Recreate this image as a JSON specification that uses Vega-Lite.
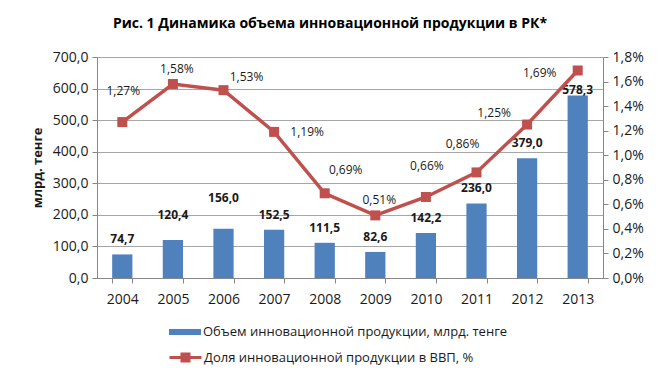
{
  "$schema": "https://vega.github.io/schema/vega-lite/v6.json",
  "autosize": "none",
  "width": 506,
  "height": 221,
  "padding": {"left": 97, "top": 57, "right": 57, "bottom": 104},
  "background": "white",
  "config": {
    "locale": {"number": {"decimal": ",", "thousands": "\u00a0", "grouping": [3], "currency": ["", ""]}},
    "font": "Open Sans",
    "view": {"stroke": null},
    "axis": {"labelFont": "Open Sans", "labelFontSize": 14, "labelColor": "#1a1a1a", "domainColor": "#868686", "tickColor": "#868686", "gridColor": "#a6a6a6", "tickSize": 5}
  },
  "title": {"text": "Рис. 1 Динамика объема инновационной продукции в РК*", "fontSize": 14, "fontWeight": "bold", "font": "Open Sans", "color": "#000000", "anchor": "middle", "dx": -20, "offset": 19},
  "data": {"values": [
    {"year": "2004", "volume": 74.7, "share": 0.0127},
    {"year": "2005", "volume": 120.4, "share": 0.0158},
    {"year": "2006", "volume": 156.0, "share": 0.0153},
    {"year": "2007", "volume": 152.5, "share": 0.0119},
    {"year": "2008", "volume": 111.5, "share": 0.0069},
    {"year": "2009", "volume": 82.6, "share": 0.0051},
    {"year": "2010", "volume": 142.2, "share": 0.0066},
    {"year": "2011", "volume": 236.0, "share": 0.0086},
    {"year": "2012", "volume": 379.0, "share": 0.0125},
    {"year": "2013", "volume": 578.3, "share": 0.0169}
  ]},
  "encoding": {
    "x": {"field": "year", "type": "ordinal", "scale": {"paddingInner": 0.6, "paddingOuter": 0.3},
      "axis": {"title": null, "labelAngle": 0, "tickBand": "extent", "labelPadding": 9, "grid": false}}
  },
  "layer": [
    {
      "encoding": {
        "y": {"field": "volume", "type": "quantitative", "scale": {"domain": [0, 700], "nice": false},
          "axis": {"title": "млрд. тенге", "titleFont": "Open Sans", "titleFontSize": 13, "titleFontWeight": "bold", "titleColor": "#1a1a1a", "titlePadding": 8, "values": [0, 100, 200, 300, 400, 500, 600, 700], "format": ".1f", "grid": true, "labelPadding": 4}}
      },
      "layer": [
        {"mark": {"type": "bar", "color": "#4f81bd"},
         "encoding": {"fill": {"datum": "Объем инновационной продукции, млрд. тенге", "scale": {"range": ["#4f81bd"]},
           "legend": {"title": null, "orient": "none", "legendX": 71, "legendY": 258, "symbolType": "M-1,-0.19H1V0.19H-1Z", "symbolSize": 1024, "labelFont": "Open Sans", "labelFontSize": 13, "labelColor": "#1a1a1a", "labelOffset": 1, "labelLimit": 400}}}},
        {"transform": [{"filter": "indexof(['2005','2006','2013'], datum.year) < 0"}],
         "mark": {"type": "text", "fontWeight": "bold", "fontSize": 12, "baseline": "middle", "dy": -15, "color": "#1a1a1a"},
         "encoding": {"text": {"field": "volume", "type": "quantitative", "format": ".1f"}}},
        {"transform": [{"filter": "datum.year == '2005'"}],
         "mark": {"type": "text", "fontWeight": "bold", "fontSize": 12, "baseline": "middle", "dy": -25, "color": "#1a1a1a"},
         "encoding": {"text": {"field": "volume", "type": "quantitative", "format": ".1f"}}},
        {"transform": [{"filter": "datum.year == '2006'"}],
         "mark": {"type": "text", "fontWeight": "bold", "fontSize": 12, "baseline": "middle", "dy": -31, "color": "#1a1a1a"},
         "encoding": {"text": {"field": "volume", "type": "quantitative", "format": ".1f"}}},
        {"transform": [{"filter": "datum.year == '2013'"}],
         "mark": {"type": "text", "fontWeight": "bold", "fontSize": 12, "baseline": "middle", "dy": -5, "color": "#1a1a1a"},
         "encoding": {"text": {"field": "volume", "type": "quantitative", "format": ".1f"}}}
      ]
    },
    {
      "encoding": {
        "y": {"field": "share", "type": "quantitative", "scale": {"domain": [0, 0.018], "nice": false},
          "axis": {"title": null, "orient": "right", "values": [0, 0.002, 0.004, 0.006, 0.008, 0.01, 0.012, 0.014, 0.016, 0.018], "format": ".1%", "grid": false, "labelPadding": 4}}
      },
      "layer": [
        {"mark": {"type": "line", "strokeWidth": 3.5},
         "encoding": {"stroke": {"datum": "Доля инновационной продукции в ВВП, %", "scale": {"range": ["#c0504d"]},
           "legend": {"title": null, "orient": "none", "legendX": 71, "legendY": 283, "symbolType": "M-1,0H1M-0.22,-0.22H0.22V0.22H-0.22Z", "symbolSize": 1024, "symbolStrokeWidth": 3, "labelFont": "Open Sans", "labelFontSize": 13, "labelColor": "#1a1a1a", "labelOffset": 1, "labelLimit": 400,
             "encode": {"symbols": {"update": {"fill": {"value": "#c0504d"}, "stroke": {"value": "#c0504d"}}}}}}}},
        {"mark": {"type": "point", "shape": "square", "filled": true, "size": 100, "color": "#c0504d", "opacity": 1}},
        {"transform": [{"filter": "datum.year == '2004' || datum.year == '2010'"}],
         "mark": {"type": "text", "fontSize": 12, "baseline": "middle", "dx": 1, "dy": -31, "color": "#1a1a1a"},
         "encoding": {"text": {"field": "share", "type": "quantitative", "format": ".2%"}}},
        {"transform": [{"filter": "datum.year == '2005' || datum.year == '2009'"}],
         "mark": {"type": "text", "fontSize": 12, "baseline": "middle", "dx": 4, "dy": -15, "color": "#1a1a1a"},
         "encoding": {"text": {"field": "share", "type": "quantitative", "format": ".2%"}}},
        {"transform": [{"filter": "datum.year == '2006'"}],
         "mark": {"type": "text", "fontSize": 12, "baseline": "middle", "dx": 23, "dy": -13, "color": "#1a1a1a"},
         "encoding": {"text": {"field": "share", "type": "quantitative", "format": ".2%"}}},
        {"transform": [{"filter": "datum.year == '2007'"}],
         "mark": {"type": "text", "fontSize": 12, "baseline": "middle", "dx": 33, "dy": 0, "color": "#1a1a1a"},
         "encoding": {"text": {"field": "share", "type": "quantitative", "format": ".2%"}}},
        {"transform": [{"filter": "datum.year == '2008'"}],
         "mark": {"type": "text", "fontSize": 12, "baseline": "middle", "dx": 21, "dy": -23, "color": "#1a1a1a"},
         "encoding": {"text": {"field": "share", "type": "quantitative", "format": ".2%"}}},
        {"transform": [{"filter": "datum.year == '2011'"}],
         "mark": {"type": "text", "fontSize": 12, "baseline": "middle", "dx": -14, "dy": -28, "color": "#1a1a1a"},
         "encoding": {"text": {"field": "share", "type": "quantitative", "format": ".2%"}}},
        {"transform": [{"filter": "datum.year == '2012'"}],
         "mark": {"type": "text", "fontSize": 12, "baseline": "middle", "dx": -33, "dy": -12, "color": "#1a1a1a"},
         "encoding": {"text": {"field": "share", "type": "quantitative", "format": ".2%"}}},
        {"transform": [{"filter": "datum.year == '2013'"}],
         "mark": {"type": "text", "fontSize": 12, "baseline": "middle", "dx": -38, "dy": 2, "color": "#1a1a1a"},
         "encoding": {"text": {"field": "share", "type": "quantitative", "format": ".2%"}}}
      ]
    }
  ],
  "resolve": {"scale": {"y": "independent"}}
}
